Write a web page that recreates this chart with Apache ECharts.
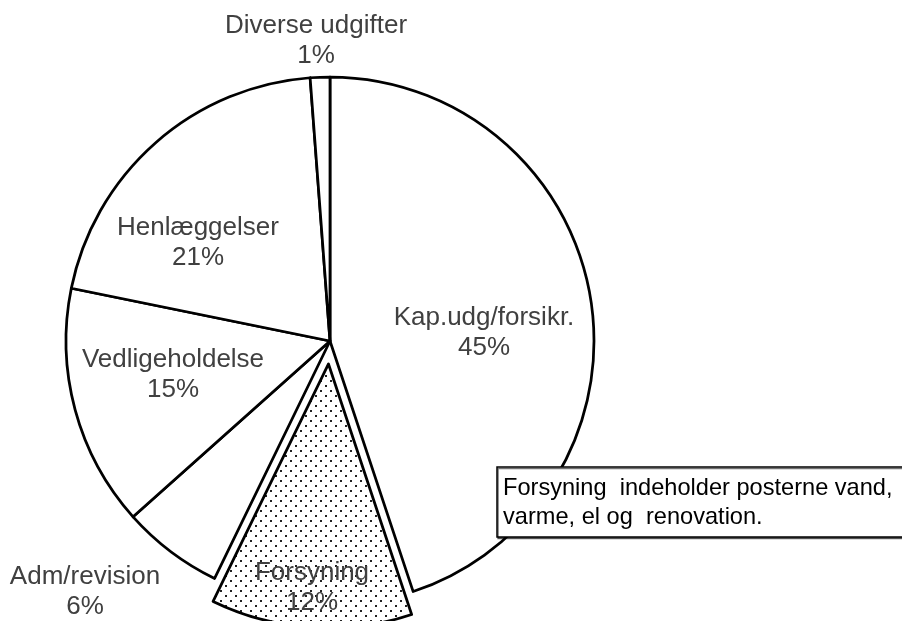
<!DOCTYPE html>
<html>
<head>
<meta charset="utf-8">
<script src="https://cdn.jsdelivr.net/npm/echarts@6/dist/echarts.min.js"></script>
<style>html,body{margin:0;padding:0;background:#fff}#c{width:902px;height:621px}</style>
</head>
<body>
<div id="c"></div>
<script>
const categories = ['Kap.udg/forsikr.', 'Forsyning', 'Adm/revision', 'Vedligeholdelse', 'Henlæggelser', 'Diverse udgifter'];
const values = [44.9, 12.3, 6.2, 14.8, 20.6, 1.2];
const labelPercents = [45, 12, 6, 15, 21, 1];
const explodedIndex = 1;
const noteLines = ['Forsyning  indeholder posterne vand,', 'varme, el og  renovation.'];

// label anchor positions (centre of the two-line label), per slice
const labelPos = [[484, 333], [312, 588], [85, 592], [173, 375], [198, 243], [316, 41]];

const pieCenter = [330, 341];
const pieRadius = 264;
const explodeDist = 23;

const tile = document.createElement('canvas');
tile.width = 10; tile.height = 10;
const tc = tile.getContext('2d');
tc.fillStyle = '#fff'; tc.fillRect(0, 0, 10, 10);
tc.fillStyle = '#222';
tc.fillRect(0, 0, 2, 2);
tc.fillRect(5, 5, 2, 2);
const dotted = { image: tile, repeat: 'repeat' };

// direction of the exploded slice, derived from the data
const total = values.reduce((a, b) => a + b, 0);
let before = 0;
for (let i = 0; i < explodedIndex; i++) before += values[i];
const midAngle = (before + values[explodedIndex] / 2) / total * 2 * Math.PI;
const explodedCenter = [pieCenter[0] + explodeDist * Math.sin(midAngle), pieCenter[1] - explodeDist * Math.cos(midAngle)];

const labelStyle = {
  show: true,
  position: 'inside',
  color: '#404040',
  fontFamily: 'Liberation Sans, Arial, sans-serif',
  fontSize: 26,
  lineHeight: 30,
  align: 'center',
  formatter: p => categories[p.dataIndex] + '\n' + labelPercents[p.dataIndex] + '%'
};
const hidden = { color: 'rgba(0,0,0,0)', borderWidth: 0 };
const bw = 2.75;

const chart = echarts.init(document.getElementById('c'), null, { renderer: 'canvas' });
chart.setOption({
  backgroundColor: '#fff',
  animation: false,
  series: [{
    type: 'pie',
    center: pieCenter,
    radius: [0, pieRadius],
    startAngle: 90,
    clockwise: true,
    silent: true,
    avoidLabelOverlap: false,
    itemStyle: { color: '#fff', borderColor: '#000', borderWidth: bw },
    emphasis: { disabled: true },
    label: labelStyle,
    labelLine: { show: false },
    labelLayout: p => ({ x: labelPos[p.dataIndex][0], y: labelPos[p.dataIndex][1], align: 'center', verticalAlign: 'middle' }),
    data: categories.map((c, i) => i === explodedIndex
      ? { name: c, value: values[i], itemStyle: hidden, label: { show: false } }
      : { name: c, value: values[i] })
  }, {
    type: 'pie',
    center: explodedCenter,
    radius: [0, pieRadius],
    startAngle: 90,
    clockwise: true,
    silent: true,
    avoidLabelOverlap: false,
    emphasis: { disabled: true },
    label: labelStyle,
    labelLine: { show: false },
    labelLayout: p => ({ x: labelPos[p.dataIndex][0], y: labelPos[p.dataIndex][1], align: 'center', verticalAlign: 'middle' }),
    data: categories.map((c, i) => i === explodedIndex
      ? { name: c, value: values[i], itemStyle: { color: dotted, borderColor: '#000', borderWidth: bw } }
      : { name: c, value: values[i], itemStyle: hidden, label: { show: false } })
  }],
  graphic: [
    { type: 'rect', z: 100, zlevel: 0, shape: { x: 497, y: 467, width: 430, height: 70 },
      style: { fill: '#fff', stroke: '#000', lineWidth: 1.5, shadowColor: 'rgba(0,0,0,0.55)', shadowOffsetX: 1, shadowOffsetY: 1.5, shadowBlur: 0 } },
    { type: 'text', z: 101, zlevel: 0, x: 503, y: 474,
      style: { text: noteLines.join('\n'), fill: '#000', font: '23.6px "Liberation Sans", Arial, sans-serif', lineHeight: 29, verticalAlign: 'top', align: 'left' } }
  ]
});
</script>
</body>
</html>
